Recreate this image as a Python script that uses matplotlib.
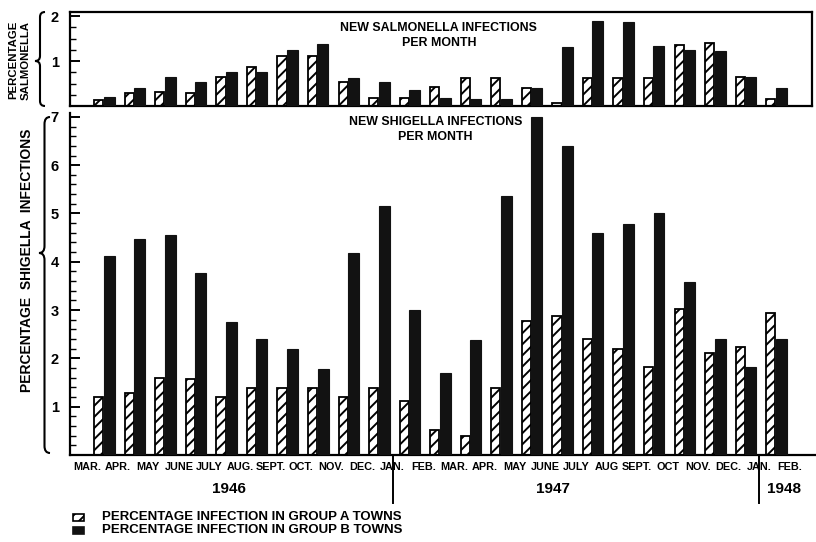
import numpy as np
import matplotlib
matplotlib.use("Agg")
import matplotlib.pyplot as plt
from matplotlib.patches import Rectangle, PathPatch
from matplotlib.path import Path
from matplotlib.transforms import blended_transform_factory

# ---- data -------------------------------------------------------------
months = ["MAR.", "APR.", "MAY", "JUNE", "JULY", "AUG.", "SEPT.", "OCT.",
          "NOV.", "DEC.", "JAN.", "FEB.", "MAR.", "APR.", "MAY", "JUNE",
          "JULY", "AUG", "SEPT.", "OCT", "NOV.", "DEC.", "JAN.", "FEB."]
years = ["1946", "1947", "1948"]

salmonella_a = [0.13, 0.29, 0.31, 0.29, 0.64, 0.87, 1.11, 1.11, 0.53, 0.18, 0.18,
                0.42, 0.62, 0.62, 0.40, 0.07, 0.62, 0.62, 0.62, 1.36, 1.40, 0.64, 0.16]
salmonella_b = [0.20, 0.40, 0.64, 0.53, 0.76, 0.76, 1.24, 1.38, 0.62, 0.53, 0.36,
                0.18, 0.16, 0.16, 0.40, 1.31, 1.89, 1.87, 1.33, 1.24, 1.22, 0.64, 0.40]
shigella_a = [1.20, 1.29, 1.59, 1.57, 1.20, 1.39, 1.39, 1.39, 1.20, 1.39, 1.12,
              0.52, 0.39, 1.39, 2.78, 2.88, 2.41, 2.20, 1.83, 3.02, 2.12, 2.23, 2.93]
shigella_b = [4.11, 4.47, 4.55, 3.77, 2.75, 2.40, 2.19, 1.78, 4.18, 5.16, 3.00,
              1.70, 2.38, 5.36, 7.00, 6.40, 4.60, 4.79, 5.00, 3.58, 2.41, 1.83, 2.40]

legend_labels = ["PERCENTAGE INFECTION IN GROUP A TOWNS",
                 "PERCENTAGE INFECTION IN GROUP B TOWNS"]

# ---- style ------------------------------------------------------------
plt.rcParams["font.family"] = ["Liberation Sans", "DejaVu Sans"]
plt.rcParams["font.weight"] = "bold"
plt.rcParams["hatch.linewidth"] = 1.4
plt.rcParams["hatch.color"] = "black"

W, H = 816, 542
fig = plt.figure(figsize=(W / 100, H / 100), dpi=100)
fig.patch.set_facecolor("white")


def fx(px):
    return px / W


def fy(py):
    return 1 - py / H


DARK = "#121212"
x = np.arange(len(shigella_a))


def draw_pairs(ax, a_vals, b_vals):
    ax.bar(x - 0.17, a_vals, width=0.30, facecolor="white", edgecolor="black",
           linewidth=1.3, hatch="///", zorder=2)
    ax.bar(x + 0.17, b_vals, width=0.36, facecolor=DARK, edgecolor=DARK,
           linewidth=0.8, zorder=3)


# ---- top panel: salmonella ------------------------------------------------
ax1 = fig.add_axes([fx(70), fy(106), fx(812) - fx(70), fy(12) - fy(106)])
draw_pairs(ax1, salmonella_a, salmonella_b)
ax1.set_xlim(-1.113, 23.18)
ax1.set_ylim(0, 2.09)
ax1.set_yticks([1, 2])
ax1.set_yticklabels(["1", "2"], fontsize=10.5, fontweight="bold")
ax1.set_yticks(np.arange(0.25, 2.09, 0.25), minor=True)
ax1.tick_params(axis="y", which="major", direction="in", length=7, width=1.4, pad=8)
ax1.tick_params(axis="y", which="minor", direction="in", length=4, width=1.0)
ax1.set_xticks([])
for s in ax1.spines.values():
    s.set_linewidth(1.6)
ax1.text(0.497, 0.89, "NEW SALMONELLA INFECTIONS\nPER MONTH", transform=ax1.transAxes,
         ha="center", va="top", fontsize=8.9, fontweight="bold", linespacing=1.25)

# ---- bottom panel: shigella -----------------------------------------------
ax2 = fig.add_axes([fx(70), fy(455), fx(816) - fx(70), fy(113) - fy(455)])
draw_pairs(ax2, shigella_a, shigella_b)
ax2.set_xlim(-1.113, 23.31)
ax2.set_ylim(0, 7.08)
ax2.set_yticks(range(1, 8))
ax2.set_yticklabels([str(v) for v in range(1, 8)], fontsize=10.5, fontweight="bold")
ax2.set_yticks(np.arange(0.2, 7.05, 0.2), minor=True)
ax2.tick_params(axis="y", which="major", direction="in", length=7, width=1.4, pad=8)
ax2.tick_params(axis="y", which="minor", direction="in", length=4, width=1.0)
ax2.spines["top"].set_visible(False)
ax2.spines["right"].set_visible(False)
for s in ("left", "bottom"):
    ax2.spines[s].set_linewidth(1.6)
ax2.set_xticks(np.arange(len(months)) - 0.55)
ax2.set_xticklabels(months, fontsize=7.8, fontweight="bold")
ax2.tick_params(axis="x", length=0, pad=5)
ax2.text(0.49, 0.99, "NEW SHIGELLA INFECTIONS\nPER MONTH", transform=ax2.transAxes,
         ha="center", va="top", fontsize=8.9, fontweight="bold", linespacing=1.25)

# year captions and year dividers below the month row
trans = blended_transform_factory(ax2.transData, ax2.transAxes)
for xpos, label in zip([4.09, 14.7, 22.26], years):
    ax2.text(xpos, -0.10, label, transform=trans, ha="center", va="center",
             fontsize=11, fontweight="bold")
for xpos in (10 - 0.55, 22 - 0.55):
    ax2.plot([xpos, xpos], [0, -0.14], transform=trans, color="black",
             linewidth=1.4, clip_on=False)

# ---- axis captions with braces -----------------------------------------
fig.text(fx(13), fy(60), "PERCENTAGE", rotation=90, ha="center", va="center",
         fontsize=8.2, fontweight="bold")
fig.text(fx(26), fy(60), "SALMONELLA", rotation=90, ha="center", va="center",
         fontsize=8.2, fontweight="bold")
fig.text(fx(27), fy(260), "PERCENTAGE  SHIGELLA  INFECTIONS", rotation=90,
         ha="center", va="center", fontsize=10, fontweight="bold")


def brace(x_tip, x_end, y0, y1, y_tip, r=6):
    xm = (x_tip + x_end) / 2
    pts = [(x_end, y0), (xm, y0), (xm, y0 + r), (xm, y_tip - r),
           (xm, y_tip), (x_tip, y_tip), (xm, y_tip), (xm, y_tip + r),
           (xm, y1 - r), (xm, y1), (x_end, y1)]
    codes = [Path.MOVETO, Path.CURVE3, Path.CURVE3, Path.LINETO,
             Path.CURVE3, Path.CURVE3, Path.CURVE3, Path.CURVE3,
             Path.LINETO, Path.CURVE3, Path.CURVE3]
    verts = [(fx(px), fy(py)) for px, py in pts]
    fig.patches.append(PathPatch(Path(verts, codes), transform=fig.transFigure,
                                 facecolor="none", edgecolor="black", linewidth=1.5))


brace(35, 45, 12, 106, 61, r=5)
brace(39, 50, 117, 453, 253, r=7)

# ---- legend -------------------------------------------------------------
legend_rows = [(517, dict(facecolor="white", edgecolor="black", hatch="///")),
               (530, dict(facecolor=DARK, edgecolor=DARK))]
for (py, style), label in zip(legend_rows, legend_labels):
    fig.patches.append(Rectangle((fx(73), fy(py + 4)), fx(11), 7 / H,
                                 transform=fig.transFigure, linewidth=1.2, **style))
    fig.text(fx(102), fy(py), label, ha="left", va="center", fontsize=9.5,
             fontweight="bold")

fig.savefig("out.png", dpi=100)
